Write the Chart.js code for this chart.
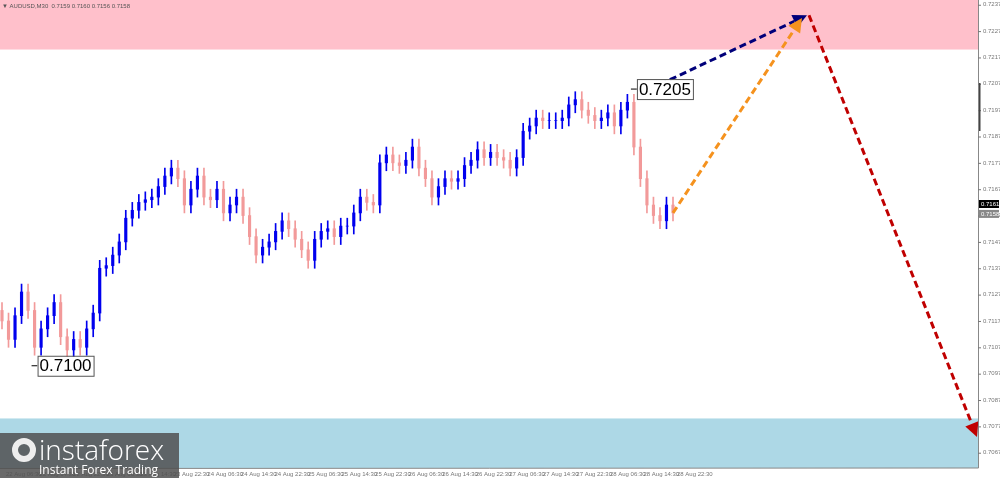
<!DOCTYPE html>
<html><head><meta charset="utf-8">
<script src="https://cdn.jsdelivr.net/npm/chart.js@4"></script>
<style>html,body{margin:0;padding:0;background:#fff}#w{width:1000px;height:478px}</style>
</head><body><div id="w"><canvas id="c"></canvas></div>
<script>
const closes=[.7117,.7110,.7119,.7128,.7121,.7107,.7114,.7119,.7124,.7111,.7106,.7110,.7107,.7114,.7120,.7137,.7138,.7142,.7147,.7156,.7159,.7162,.7163,.7164,.7168,.7172,.7175,.7171,.7161,.7167,.7172,.7164,.7163,.7167,.7158,.7161,.7164,.7157,.7149,.7142,.7145,.7147,.7151,.7155,.7152,.7148,.7144,.7140,.7148,.7151,.7152,.7149,.7153,.7153,.7158,.7164,.7162,.7161,.7177,.7180,.7177,.7176,.7178,.7183,.7175,.7171,.7164,.7168,.7171,.7170,.7171,.7176,.7178,.7182,.7179,.7181,.7179,.7178,.7175,.7179,.7189,.7191,.7194,.7193,.7193,.7193,.7194,.7199,.7201,.7197,.7195,.7193,.7194,.7196,.7191,.7197,.7200,.7183,.7171,.7161,.7157,.7155,.7161,.7158];
const firstOpen=.7121;
const priceTicks=[.7237,.7227,.7217,.7207,.7197,.7187,.7177,.7167,.7157,.7147,.7137,.7127,.7117,.7107,.7097,.7087,.7077,.7067];
const timeLabels=["22 Aug 06:30","22 Aug 14:30","22 Aug 22:30","23 Aug 06:30","23 Aug 14:30","23 Aug 22:30","24 Aug 06:30","24 Aug 14:30","24 Aug 22:30","25 Aug 06:30","25 Aug 14:30","25 Aug 22:30","26 Aug 06:30","26 Aug 14:30","26 Aug 22:30","27 Aug 06:30","27 Aug 14:30","27 Aug 22:30","28 Aug 06:30","28 Aug 14:30","28 Aug 22:30"];
const zones={resistance:[.7220,.7245],support:[.7050,.7080]};
const lowMark={i:5,p:.7100,t:"0.7100"}, highMark={i:97,p:.7205,t:"0.7205"};
const n=closes.length;
const opens=closes.map((c,i)=>i?closes[i-1]:firstOpen);
const xs=closes.map((c,i)=>2+i*671/(n-1));
const arrows=[
 {from:[650,.7205],to:[807,.7233],color:'#00007a'},
 {from:[673,.7158],to:[802,.7232],color:'#f5921e'},
 {from:[809,.7233],to:[977,.7073],color:'#c00000'}];
const bodies=closes.map((c,i)=>({x:xs[i],y:[opens[i],c]}));
const wicks=closes.map((c,i)=>({x:xs[i],y:[Math.min(opens[i],c)-.0003,Math.max(opens[i],c)+.0003]}));
const cols=closes.map((c,i)=>c>=opens[i]?'#0000ee':'#f29a9a');
const plug={id:'p',beforeDatasetsDraw(ch){const {ctx,chartArea:a,scales:{x,y}}=ch;
 ctx.save();ctx.fillStyle='#ffc0cb';ctx.fillRect(a.left,0,a.right-a.left,y.getPixelForValue(zones.resistance[0]));
 ctx.fillStyle='#add8e6';const sb=y.getPixelForValue(zones.support[1]);ctx.fillRect(a.left,sb,a.right-a.left,a.bottom-sb);ctx.restore();},
 afterDatasetsDraw(ch){const {ctx,chartArea:a,scales:{x,y}}=ch;ctx.save();
 arrows.forEach(ar=>{const x1=x.getPixelForValue(ar.from[0]),y1=y.getPixelForValue(ar.from[1]),x2=x.getPixelForValue(ar.to[0]),y2=y.getPixelForValue(ar.to[1]);
  const ang=Math.atan2(y2-y1,x2-x1);const L=14;const bx=x2-L*Math.cos(ang),by=y2-L*Math.sin(ang);
  ctx.strokeStyle=ar.color;ctx.lineWidth=3;ctx.setLineDash([7,4]);ctx.beginPath();ctx.moveTo(x1,y1);ctx.lineTo(bx,by);ctx.stroke();ctx.setLineDash([]);
  ctx.fillStyle=ar.color;ctx.beginPath();ctx.moveTo(x2,y2);ctx.lineTo(bx+7*Math.sin(ang),by-7*Math.cos(ang));ctx.lineTo(bx-7*Math.sin(ang),by+7*Math.cos(ang));ctx.closePath();ctx.fill();});
 [lowMark,highMark].forEach(m=>{const px=x.getPixelForValue(xs[m.i]),py=y.getPixelForValue(m.p);ctx.font='17px Arial, Liberation Sans';const w=ctx.measureText(m.t).width+4;
  ctx.strokeStyle='#000';ctx.lineWidth=1;ctx.beginPath();ctx.moveTo(px-3,py);ctx.lineTo(px+3,py);ctx.stroke();ctx.fillStyle='#fff';ctx.fillRect(px+3,py-9,w,20);ctx.strokeStyle='#555';ctx.strokeRect(px+3.5,py-9.5,w,20);
  ctx.fillStyle='#000';ctx.textBaseline='middle';ctx.fillText(m.t,px+5,py+1);});
 ctx.fillStyle='#fff';ctx.fillRect(a.right,0,1000-a.right,478);ctx.fillRect(0,a.bottom,1000,478-a.bottom);
 ctx.strokeStyle='#888';ctx.lineWidth=1;ctx.beginPath();ctx.moveTo(a.right+.5,0);ctx.lineTo(a.right+.5,a.bottom);ctx.lineTo(0,a.bottom+.5);ctx.stroke();
 ctx.font='6px Arial, Liberation Sans';ctx.fillStyle='#777';ctx.textBaseline='middle';
 priceTicks.forEach(p=>{const py=y.getPixelForValue(p);ctx.fillRect(a.right,py,3,1);ctx.fillText(p.toFixed(4),a.right+5,py);});
 ctx.fillStyle='#444';ctx.fillRect(a.right+1,83,1.5,48);
 [[.7161,'#000'],[.7158,'#888']].forEach(([p,c],k)=>{const py=y.getPixelForValue(p)+(k?1:-1);ctx.fillStyle=c;ctx.fillRect(a.right+1,py-4,20,8);ctx.fillStyle='#fff';ctx.fillText(p.toFixed(4),a.right+3,py);});
 ctx.fillStyle='#777';ctx.textBaseline='top';
 timeLabels.forEach((t,k)=>{ctx.fillText(t,6+k*33.55,a.bottom+3);});
 ctx.fillStyle='#555';ctx.fillText('▼ AUDUSD,M30  0.7159 0.7160 0.7156 0.7158',2,3);
 ctx.fillStyle='rgba(80,80,80,0.85)';ctx.fillRect(0,433,179,45);
 ctx.strokeStyle='#eee';ctx.lineWidth=6;ctx.beginPath();ctx.arc(24,450,9,0,Math.PI*2);ctx.stroke();
 ctx.fillStyle='#fff';ctx.textBaseline='alphabetic';
 ctx.font='300 28px "Open Sans", Arial';ctx.fillText('instaforex',39,460);
 ctx.font='12px "Open Sans", Arial';ctx.fillText('Instant Forex Trading',39,474);
 ctx.restore();}};
new Chart(document.getElementById('c'),{data:{datasets:[
 {type:'bar',data:wicks,backgroundColor:cols,barThickness:1,grouped:false},
 {type:'bar',data:bodies,backgroundColor:cols,barThickness:2.5,grouped:false}]},
 options:{responsive:true,maintainAspectRatio:false,animation:false,layout:{padding:{right:22,bottom:10}},
 plugins:{legend:{display:false},tooltip:{enabled:false}},
 scales:{x:{type:'linear',min:0,max:978,offset:false,display:false},y:{min:.70612,max:.72388,display:false}}},plugins:[plug]});
</script></body></html>
